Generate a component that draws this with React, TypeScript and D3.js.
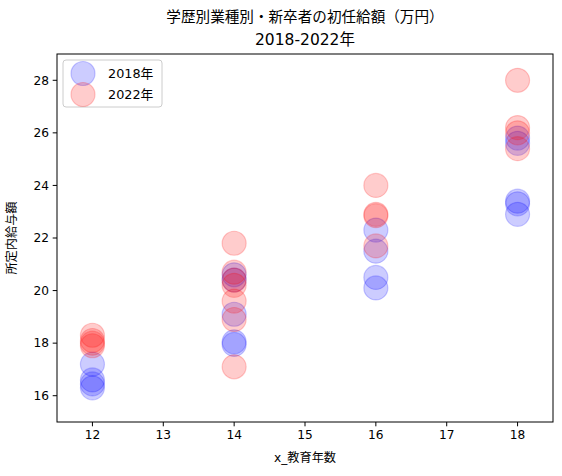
import * as d3 from 'd3';
import React from 'react';

// 教育年数ごとの所定内給与額（万円）
const years2018X = [12, 12, 12, 12, 14, 14, 14, 14, 14, 16, 16, 16, 16, 18, 18, 18, 18, 18];
const years2018Y = [17.2, 16.6, 16.45, 16.3, 20.6, 20.4, 19.1, 18.05, 17.95, 22.3, 21.5, 20.5, 20.1, 25.8, 25.6, 23.4, 23.3, 22.9];
const years2022X = [12, 12, 12, 12, 14, 14, 14, 14, 14, 14, 14, 16, 16, 16, 16, 18, 18, 18, 18];
const years2022Y = [18.3, 18.1, 18.0, 17.9, 21.8, 20.7, 20.4, 20.2, 19.6, 18.9, 17.1, 24.0, 22.9, 22.85, 21.7, 28.0, 26.2, 26.0, 25.4];
const xTicks = [12, 13, 14, 15, 16, 17, 18];
const yTicks = [16, 18, 20, 22, 24, 26, 28];
const seriesNames = ['2018年', '2022年'];
const seriesColors = ['blue', 'red'];

const width = 562;
const height = 476;
const margin = { top: 54, right: 9, bottom: 54, left: 57 };
const jpFont = '"DejaVu Sans", "Noto Sans CJK JP", sans-serif';
const numFont = '"DejaVu Sans", sans-serif';

export default function App() {
    const innerWidth = width - margin.left - margin.right;
    const innerHeight = height - margin.top - margin.bottom;

    const xScale = d3.scaleLinear().domain([11.5, 18.5]).range([0, innerWidth]);
    const yScale = d3.scaleLinear().domain([15, 29]).range([innerHeight, 0]);

    const series = [
        years2018X.map((x, i) => ({ x, y: years2018Y[i] })),
        years2022X.map((x, i) => ({ x, y: years2022Y[i] })),
    ];
    const r = 12;

    return (
        <svg
            width={width}
            height={height}
            style={{ position: 'absolute', left: 0, top: 0, background: '#fff' }}
        >
            <text x={margin.left + innerWidth / 2} y={22} textAnchor="middle" fontSize={14.6} fontFamily={jpFont}>
                学歴別業種別・新卒者の初任給額（万円）
            </text>
            <text x={margin.left + innerWidth / 2} y={45} textAnchor="middle" fontSize={15.5} fontFamily={jpFont}>
                2018-2022年
            </text>
            <g transform={`translate(${margin.left},${margin.top})`}>
                {series.map((pts, si) => (
                    <g key={si}>
                        {pts.map((d, i) => (
                            <circle
                                key={i}
                                cx={xScale(d.x)}
                                cy={yScale(d.y)}
                                r={r}
                                fill={seriesColors[si]}
                                fillOpacity={0.2}
                                stroke={seriesColors[si]}
                                strokeOpacity={0.2}
                                strokeWidth={1.2}
                            />
                        ))}
                    </g>
                ))}
                <rect x={0} y={0} width={innerWidth} height={innerHeight} fill="none" stroke="#000" strokeWidth={1} />
                {xTicks.map((t) => (
                    <g key={t} transform={`translate(${xScale(t)},${innerHeight})`}>
                        <line y2={4.3} stroke="#000" />
                        <text y={17} textAnchor="middle" fontSize={12.2} fontFamily={numFont}>
                            {t}
                        </text>
                    </g>
                ))}
                {yTicks.map((t) => (
                    <g key={t} transform={`translate(0,${yScale(t)})`}>
                        <line x2={-4.3} stroke="#000" />
                        <text x={-8} dy="0.35em" textAnchor="end" fontSize={12.2} fontFamily={numFont}>
                            {t}
                        </text>
                    </g>
                ))}
                <text x={innerWidth / 2} y={innerHeight + 40} textAnchor="middle" fontSize={12.2} fontFamily={jpFont}>
                    x_教育年数
                </text>
                <text
                    transform={`translate(${-41},${innerHeight / 2}) rotate(-90)`}
                    textAnchor="middle"
                    fontSize={12.2}
                    fontFamily={jpFont}
                >
                    所定内給与額
                </text>
                <g transform="translate(6,6)">
                    <rect x={0} y={0} width={99} height={47} rx={3} fill="#fff" fillOpacity={0.8} stroke="#ccc" />
                    {seriesNames.map((name, i) => (
                        <g key={name} transform={`translate(0,${13.5 + i * 21})`}>
                            <circle
                                cx={20}
                                cy={0}
                                r={r}
                                fill={seriesColors[i]}
                                fillOpacity={0.2}
                                stroke={seriesColors[i]}
                                strokeOpacity={0.2}
                                strokeWidth={1.2}
                            />
                            <text x={45} dy="0.35em" fontSize={12.8} fontFamily={jpFont}>
                                {name}
                            </text>
                        </g>
                    ))}
                </g>
            </g>
        </svg>
    );
}
